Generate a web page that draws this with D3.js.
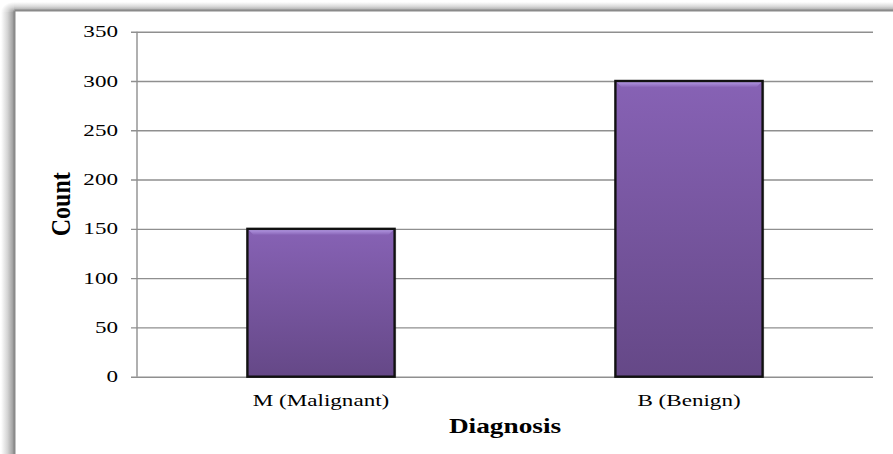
<!DOCTYPE html>
<html>
<head>
<meta charset="utf-8">
<script src="https://cdn.jsdelivr.net/npm/d3@7/dist/d3.min.js"></script>
<style>
  html, body { margin: 0; padding: 0; background: #ffffff; overflow: hidden; width: 893px; height: 454px; }
  svg { display: block; }
</style>
</head>
<body>
<svg id="chart" width="893" height="454"></svg>
<script>
// Diagnosis counts
const categories = ["M (Malignant)", "B (Benign)"];
const counts = [150, 300];
const yTicks = [0, 50, 100, 150, 200, 250, 300, 350];

const W = 893, H = 454;
const plot = { left: 137, right: 873, top: 31.7, bottom: 376.7 };
const serif = "'Liberation Serif', 'Times New Roman', Times, serif";
const stretch = 1.4; // horizontal widening of the label glyphs

const svg = d3.select("#chart");
const defs = svg.append("defs");

// frame shadow gradients
const gLeft = defs.append("linearGradient").attr("id", "shadowLeft")
  .attr("x1", "0").attr("x2", "1").attr("y1", "0").attr("y2", "0");
gLeft.append("stop").attr("offset", "0").attr("stop-color", "#ffffff");
gLeft.append("stop").attr("offset", "0.5").attr("stop-color", "#d4d4d4");
gLeft.append("stop").attr("offset", "1").attr("stop-color", "#969696");

const gTop = defs.append("linearGradient").attr("id", "shadowTop")
  .attr("x1", "0").attr("x2", "0").attr("y1", "0").attr("y2", "1");
gTop.append("stop").attr("offset", "0").attr("stop-color", "#ffffff");
gTop.append("stop").attr("offset", "0.5").attr("stop-color", "#dcdcdc");
gTop.append("stop").attr("offset", "1").attr("stop-color", "#a4a4a4");

const gCorner = defs.append("radialGradient").attr("id", "shadowCorner")
  .attr("cx", "1").attr("cy", "1").attr("r", "1");
gCorner.append("stop").attr("offset", "0").attr("stop-color", "#a0a0a0");
gCorner.append("stop").attr("offset", "0.5").attr("stop-color", "#dadada");
gCorner.append("stop").attr("offset", "1").attr("stop-color", "#ffffff");

// bar fill: lighter violet on top, deeper below
const gBar = defs.append("linearGradient").attr("id", "barFill")
  .attr("x1", "0").attr("x2", "0").attr("y1", "0").attr("y2", "1");
gBar.append("stop").attr("offset", "0").attr("stop-color", "#8762b5");
gBar.append("stop").attr("offset", "1").attr("stop-color", "#654887");

const gBevel = defs.append("linearGradient").attr("id", "bevelFill")
  .attr("x1", "0").attr("x2", "0").attr("y1", "0").attr("y2", "1");
gBevel.append("stop").attr("offset", "0").attr("stop-color", "#b095e0");
gBevel.append("stop").attr("offset", "1").attr("stop-color", "#8a66b8");

// frame with soft shadow on the top and left; right and bottom edges run off the page
svg.append("rect").attr("x", 0).attr("y", 0).attr("width", W).attr("height", H).attr("fill", "#ffffff");
svg.append("rect").attr("x", 1).attr("y", 12).attr("width", 13).attr("height", H).attr("fill", "url(#shadowLeft)");
svg.append("rect").attr("x", 14).attr("y", 2).attr("width", W).attr("height", 8.5).attr("fill", "url(#shadowTop)");
svg.append("rect").attr("x", 1).attr("y", 2).attr("width", 13).attr("height", 10).attr("fill", "url(#shadowCorner)");
svg.append("rect").attr("x", 15.5).attr("y", 11.5).attr("width", W).attr("height", H).attr("fill", "#ffffff");
svg.append("line").attr("x1", 14.5).attr("x2", 14.5).attr("y1", 10.5).attr("y2", H)
  .attr("stroke", "#8a8a8a").attr("stroke-width", 2);
svg.append("line").attr("x1", 14.5).attr("x2", W).attr("y1", 10.5).attr("y2", 10.5)
  .attr("stroke", "#8a8a8a").attr("stroke-width", 2);

// scales
const x = d3.scaleBand().domain(categories)
  .range([plot.left, plot.right]).paddingInner(0.6).paddingOuter(0.3);
const y = d3.scaleLinear().domain([0, 350]).range([plot.bottom, plot.top]);

// gridlines + left ticks
const yAxis = d3.axisLeft(y).tickValues(yTicks)
  .tickSize(-(plot.right - plot.left)).tickSizeOuter(0).tickFormat("");
const gy = svg.append("g").attr("transform", `translate(${plot.left},0)`).call(yAxis);
gy.select(".domain").remove();
gy.selectAll(".tick line").attr("stroke", "#8f8f8f").attr("stroke-width", 1.4)
  .attr("x1", -6);

// y-axis line
svg.append("line").attr("x1", plot.left).attr("x2", plot.left)
  .attr("y1", plot.top).attr("y2", plot.bottom)
  .attr("stroke", "#8f8f8f").attr("stroke-width", 1.4);

// y tick labels
svg.append("g").selectAll("text").data(yTicks).join("text")
  .attr("transform", d => `translate(118,${y(d) + 5.6}) scale(${stretch},1)`)
  .attr("text-anchor", "end")
  .attr("font-family", serif).attr("font-size", 16.5).attr("fill", "#000")
  .text(d => d);

// bars
const bars = svg.append("g").selectAll("g").data(categories).join("g");
// faint shadow to the right of each bar
bars.append("rect")
  .attr("x", d => x(d) + 2).attr("y", (d, i) => y(counts[i]) + 1)
  .attr("width", x.bandwidth()).attr("height", (d, i) => y(0) - y(counts[i]) - 1)
  .attr("fill", "#000").attr("opacity", 0.08);
bars.append("rect")
  .attr("x", d => x(d)).attr("y", (d, i) => y(counts[i]))
  .attr("width", x.bandwidth()).attr("height", (d, i) => y(0) - y(counts[i]))
  .attr("fill", "url(#barFill)");
// bevelled top edge
bars.append("path")
  .attr("d", (d, i) => {
    const x0 = x(d) + 1, x1 = x(d) + x.bandwidth() - 1, t = y(counts[i]) + 1;
    return `M${x0},${t}L${x1},${t}L${x1 - 5},${t + 5}L${x0 + 5},${t + 5}Z`;
  })
  .attr("fill", "url(#bevelFill)");
bars.append("rect")
  .attr("x", d => x(d)).attr("y", (d, i) => y(counts[i]))
  .attr("width", x.bandwidth()).attr("height", (d, i) => y(0) - y(counts[i]))
  .attr("fill", "none").attr("stroke", "#111").attr("stroke-width", 2.4);

// category labels
svg.append("g").selectAll("text").data(categories).join("text")
  .attr("transform", d => `translate(${x(d) + x.bandwidth() / 2},405.5) scale(${stretch},1)`)
  .attr("text-anchor", "middle")
  .attr("font-family", serif).attr("font-size", 16.5).attr("fill", "#000")
  .text(d => d);

// axis titles
svg.append("text")
  .attr("transform", `translate(${(plot.left + plot.right) / 2},433) scale(1.3,1)`)
  .attr("text-anchor", "middle")
  .attr("font-family", serif).attr("font-size", 21).attr("font-weight", "bold").attr("fill", "#000")
  .text("Diagnosis");

svg.append("text")
  .attr("transform", `translate(70,${(plot.top + plot.bottom) / 2}) rotate(-90) scale(1,1.1)`)
  .attr("text-anchor", "middle")
  .attr("font-family", serif).attr("font-size", 24).attr("font-weight", "bold").attr("fill", "#000")
  .text("Count");
</script>
</body>
</html>
